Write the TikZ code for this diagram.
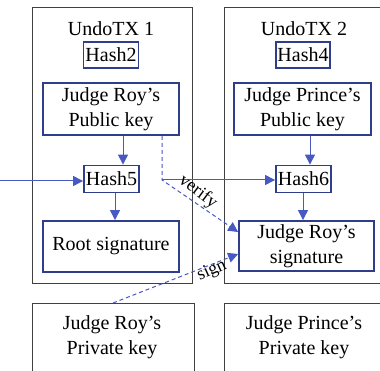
\documentclass[tikz,border=0pt]{standalone}
\usepackage{fontspec}
\setmainfont{Liberation Serif}
\usetikzlibrary{arrows.meta}
\definecolor{boxblue}{HTML}{2E3D8C}
\definecolor{arrblue}{HTML}{4859C2}
\tikzset{
  outerbox/.style={draw=black!75, line width=0.8pt},
  bluebox/.style={draw=boxblue, line width=1.8pt, inner sep=0pt, align=center,
    font=\fontsize{20}{25}\selectfont},
  txt/.style={align=center, font=\fontsize{20}{25}\selectfont, inner sep=0pt},
  arr/.style={draw=arrblue, line width=1pt, -{Triangle[width=10pt,length=10pt]}},
  darr/.style={arr, dashed, dash pattern=on 4pt off 3pt},
  lbl/.style={font=\fontsize{18}{20}\selectfont, inner sep=0pt},
}
\begin{document}
\begin{tikzpicture}[x=1pt,y=-1pt]
\clip (0,0) rectangle (380,371);
% outer boxes
\draw[outerbox] (32,7) rectangle (192,283);
\draw[outerbox] (224,7) rectangle (390,283);
\draw[outerbox] (32,303) rectangle (194,380);
\draw[outerbox] (224,303) rectangle (390,380);
\node[txt] (t1) at (111,29) {UndoTX 1};
\node[txt] (t2) at (304,29) {UndoTX 2};
% left column
\node[bluebox, minimum width=55pt, minimum height=26pt] (h2) at (111,55) {Hash2};
\node[bluebox, minimum width=136pt, minimum height=52pt] (pk1) at (111,109) {Judge Roy’s\\Public key};
\node[bluebox, minimum width=55pt, minimum height=27pt] (h5) at (111.5,179) {Hash5};
\node[bluebox, minimum width=136pt, minimum height=51pt] (rs) at (111,246.5) {Root signature};
% right column
\node[bluebox, minimum width=54pt, minimum height=26pt] (h4) at (303,55) {Hash4};
\node[bluebox, minimum width=137pt, minimum height=52pt] (pk2) at (302.5,109) {Judge Prince’s\\Public key};
\node[bluebox, minimum width=55pt, minimum height=27pt] (h6) at (303.5,179) {Hash6};
\node[bluebox, minimum width=135pt, minimum height=50pt] (sig) at (306.5,246) {Judge Roy’s\\signature};
% bottom keys
\node[txt] (prk1) at (112,337.5) {Judge Roy’s\\Private key};
\node[txt] (prk2) at (304,337.5) {Judge Prince’s\\Private key};
% coordinates
\coordinate (in) at (0,181);
\coordinate (bend) at (162,180);
\coordinate (sgs) at (113,303);
% arrows
\draw[arr] (in) -- (h5.west |- in);
\draw[arr] (pk1.south -| 123,0) -- (h5.north -| 123,0);
\draw[arr] (h5.south -| 115,0) -- (rs.north -| 115,0);
\draw[arr] (pk2.south -| 310,0) -- (h6.north -| 310,0);
\draw[arr] (h6.south -| 303,0) -- (sig.north -| 303,0);
\draw[arr] (bend) -- (h6.west |- bend);
\draw[darr] (pk1.south -| bend) -- (bend) -- (sig.west |- 0,232);
\draw[darr] (sgs) -- (sig.west |- 0,254);
\node[lbl, rotate=-37] (vl) at (198,192) {verify};
\node[lbl, rotate=24] (sl) at (212,271) {sign};
\end{tikzpicture}
\end{document}
